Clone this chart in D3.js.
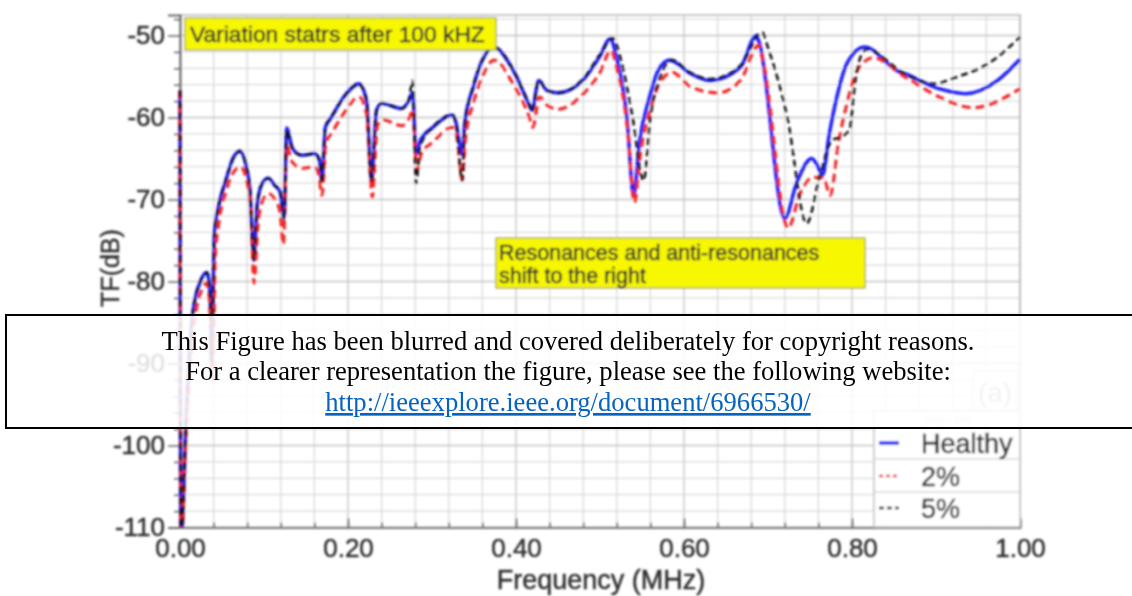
<!DOCTYPE html>
<html><head><meta charset="utf-8">
<script src="https://cdn.jsdelivr.net/npm/d3@7"></script>
<style>body{margin:0;background:#fff}svg{display:block}</style>
</head><body><svg id="c" width="1132" height="596"></svg>
<script>
// ---------- data ----------
const xTickValues = [0, 0.2, 0.4, 0.6, 0.8, 1.0];
const xTickLabels = ["0.00", "0.20", "0.40", "0.60", "0.80", "1.00"];
const yTickValues = [-50, -60, -70, -80, -90, -100, -110];
const seriesNames = ["Healthy", "2%", "5%"];

// [frequency MHz, TF dB]
const healthy = [[0,-56.7],[0.001,-112],[0.008,-95],[0.015,-84],[0.025,-79.8],[0.032,-78.9],[0.036,-82],[0.0375,-90],[0.041,-74],[0.045,-71.3],[0.055,-67.5],[0.063,-65],[0.071,-64.1],[0.080,-66.5],[0.083,-68.5],[0.088,-77.4],[0.092,-70.5],[0.098,-68],[0.105,-67.4],[0.113,-68.3],[0.119,-69],[0.124,-72.2],[0.127,-61.3],[0.134,-63.8],[0.145,-64.6],[0.160,-64.4],[0.166,-65.2],[0.169,-67.7],[0.173,-61.2],[0.180,-60],[0.195,-57.5],[0.213,-55.9],[0.222,-57.9],[0.228,-67.5],[0.234,-59.1],[0.240,-58.3],[0.264,-58.9],[0.272,-58],[0.277,-57],[0.281,-64.5],[0.286,-62.8],[0.301,-61.2],[0.324,-59.7],[0.328,-60.4],[0.336,-64.5],[0.339,-60.7],[0.349,-56.3],[0.36,-53],[0.373,-51.4],[0.397,-54.3],[0.415,-58.3],[0.419,-59.1],[0.427,-55.5],[0.437,-56.7],[0.45,-57],[0.48,-55.4],[0.50,-52.5],[0.512,-50.4],[0.52,-52.8],[0.532,-60],[0.540,-69.5],[0.547,-63],[0.559,-57.5],[0.569,-54.3],[0.583,-53],[0.607,-54.6],[0.631,-55.5],[0.667,-53.9],[0.686,-50],[0.69,-51],[0.720,-72.3],[0.734,-68],[0.752,-65],[0.757,-65.5],[0.765,-67],[0.773,-62],[0.782,-57.5],[0.794,-53.4],[0.815,-51.4],[0.854,-54.3],[0.864,-54.7],[0.904,-56.5],[0.935,-57.1],[0.973,-55.5],[1.0,-52.9]];

const damaged2 = [[0,-56.7],[0.001,-112],[0.008,-97],[0.016,-86],[0.026,-81],[0.032,-80.2],[0.036,-84],[0.039,-92],[0.042,-77],[0.046,-73],[0.055,-69],[0.063,-66.8],[0.072,-66],[0.080,-68],[0.084,-70.5],[0.088,-80.2],[0.093,-73],[0.099,-70],[0.106,-69.3],[0.113,-70],[0.119,-71.5],[0.123,-75.5],[0.127,-63.5],[0.134,-65.5],[0.145,-66.2],[0.160,-66],[0.165,-67],[0.169,-69.5],[0.174,-63],[0.180,-62],[0.195,-59.5],[0.213,-57.5],[0.222,-59.5],[0.229,-69.7],[0.235,-61],[0.242,-60.3],[0.264,-61],[0.274,-59.8],[0.277,-59],[0.282,-66.5],[0.287,-64.5],[0.301,-63],[0.324,-61.2],[0.329,-62],[0.336,-67.6],[0.340,-62.5],[0.350,-58],[0.36,-55],[0.374,-53],[0.397,-56],[0.416,-60],[0.420,-61.2],[0.428,-57.5],[0.437,-58.5],[0.45,-59],[0.482,-56.9],[0.50,-54.5],[0.513,-51.8],[0.52,-54],[0.533,-61.5],[0.541,-70.4],[0.548,-64.5],[0.560,-59],[0.570,-56],[0.586,-54.5],[0.607,-56.2],[0.640,-57],[0.667,-55.5],[0.689,-51.2],[0.694,-53],[0.724,-73.5],[0.738,-69.3],[0.754,-67.3],[0.766,-67.3],[0.774,-69.5],[0.784,-63],[0.794,-58.3],[0.806,-54.3],[0.825,-52.7],[0.864,-55.1],[0.904,-57.5],[0.944,-58.8],[1.0,-56.5]];

const damaged5 = [[0,-56.7],[0.001,-112],[0.008,-95],[0.015,-84],[0.025,-79.8],[0.032,-78.9],[0.036,-82],[0.0375,-90],[0.041,-74],[0.045,-71.3],[0.055,-67.5],[0.063,-65],[0.071,-64.1],[0.080,-66.5],[0.083,-68.5],[0.088,-77.4],[0.092,-70.5],[0.098,-68],[0.105,-67.4],[0.113,-68.3],[0.119,-69],[0.124,-72.5],[0.127,-61.5],[0.134,-63.8],[0.145,-64.6],[0.160,-64.4],[0.166,-65.2],[0.169,-68],[0.173,-61.2],[0.180,-60],[0.195,-57.5],[0.213,-55.9],[0.222,-57.9],[0.228,-67.8],[0.234,-59.1],[0.240,-58.3],[0.264,-58.9],[0.272,-58],[0.277,-55.5],[0.281,-68],[0.286,-63.5],[0.301,-61.2],[0.324,-59.7],[0.328,-60.4],[0.336,-67.7],[0.339,-61],[0.349,-56.3],[0.36,-53],[0.373,-51.4],[0.397,-54.3],[0.415,-58.3],[0.419,-59.3],[0.427,-55.5],[0.437,-56.7],[0.45,-57],[0.48,-55.3],[0.50,-52.3],[0.515,-50.3],[0.525,-53],[0.538,-59.5],[0.552,-67.7],[0.560,-60],[0.572,-55],[0.586,-53],[0.607,-54.5],[0.631,-55.3],[0.667,-53.7],[0.693,-49.6],[0.70,-51.5],[0.723,-60],[0.746,-72.9],[0.762,-67],[0.776,-62.8],[0.790,-62.2],[0.797,-61.5],[0.804,-55.5],[0.812,-52.2],[0.818,-51.7],[0.86,-54.5],[0.885,-55.7],[0.897,-55.9],[0.924,-55.1],[0.964,-53.3],[1.0,-50.2]];

const noteTop = "Variation statrs after 100 kHZ";
const noteMid = ["Resonances and anti-resonances", "shift to the right"];
const panelTag = "(a)";
const legendTitle = "Series Info";
const coverLines = ["This Figure has been blurred and covered deliberately for copyright reasons.",
  "For a clearer representation the figure, please see the following website:"];
const coverLink = "http://ieeexplore.ieee.org/document/6966530/";

// ---------- chart ----------
const svg = d3.select("#c");
const L = 180, R = 1020, T = 15, B = 527.5;
const x = d3.scaleLinear().domain([0, 1]).range([L, R]);
const y = d3.scaleLinear().domain([-110, -47.5]).range([B, T]);

const defs = svg.append("defs");
defs.append("filter").attr("id", "soft").attr("x", "-5%").attr("y", "-5%").attr("width", "110%").attr("height", "110%")
  .append("feGaussianBlur").attr("stdDeviation", 0.9);
defs.append("clipPath").attr("id", "plotclip").append("rect")
  .attr("x", L - 2).attr("y", T).attr("width", R - L + 4).attr("height", B - T);

const g = svg.append("g").attr("filter", "url(#soft)");
const font = "Liberation Sans, Arial, sans-serif";
const ink = "#2e2e2e";
const heavy = s => s.attr("fill", ink).attr("stroke", ink).attr("stroke-width", 0.45);

// grid
const gx = d3.range(0, 1.0001, 0.04);
const gy = d3.range(-110, -47.4, 2);
g.append("g").selectAll("line").data(gx).join("line")
  .attr("x1", d => x(d)).attr("x2", d => x(d)).attr("y1", T).attr("y2", B)
  .attr("stroke", d => Math.abs(d * 5 - Math.round(d * 5)) < 1e-6 ? "#c4c4c4" : "#dadada").attr("stroke-width", 1.3);
g.append("g").selectAll("line").data(gy).join("line")
  .attr("x1", L).attr("x2", R).attr("y1", d => y(d)).attr("y2", d => y(d))
  .attr("stroke", d => d % 10 === 0 ? "#c4c4c4" : "#dadada").attr("stroke-width", 1.3);
// frame
g.append("rect").attr("x", L).attr("y", T).attr("width", R - L).attr("height", B - T)
  .attr("fill", "none").attr("stroke", "#b8b8b8").attr("stroke-width", 1.5);

// y axis
const yAxis = g.append("g").attr("transform", `translate(${L},0)`)
  .call(d3.axisLeft(y).tickValues(yTickValues).tickSize(12).tickPadding(3).tickFormat(d => String(d)));
yAxis.selectAll("text").attr("font-family", font).attr("font-size", 26).call(heavy);
yAxis.selectAll(".tick line").attr("stroke", "#666").attr("stroke-width", 1.5);
yAxis.select(".domain").attr("stroke", "#666").attr("stroke-width", 2);
g.append("g").attr("transform", `translate(${L},0)`)
  .call(d3.axisLeft(y).tickValues(gy.filter(d => d % 10 !== 0)).tickSize(6).tickFormat(""))
  .call(s => { s.select(".domain").remove(); s.selectAll("line").attr("stroke", "#666").attr("stroke-width", 1.5); });

// x axis
const xAxis = g.append("g").attr("transform", `translate(0,${B})`)
  .call(d3.axisBottom(x).tickValues(xTickValues).tickSize(-9).tickPadding(0).tickFormat((d, i) => xTickLabels[i]));
xAxis.selectAll("text").attr("font-family", font).attr("font-size", 26).attr("y", 11).call(heavy);
xAxis.selectAll(".tick line").attr("stroke", "#666").attr("stroke-width", 1.5);
xAxis.select(".domain").attr("stroke", "#777").attr("stroke-width", 2);
g.append("g").attr("transform", `translate(0,${B})`)
  .call(d3.axisBottom(x).tickValues(gx).tickSize(-5).tickFormat(""))
  .call(s => { s.select(".domain").remove(); s.selectAll("line").attr("stroke", "#666").attr("stroke-width", 1.5); });

// axis titles
g.append("text").attr("x", 601).attr("y", 589).attr("text-anchor", "middle")
  .attr("font-family", font).attr("font-size", 27).call(heavy).text("Frequency (MHz)");
g.append("text").attr("transform", "translate(119,268) rotate(-90)").attr("text-anchor", "middle")
  .attr("font-family", font).attr("font-size", 25).call(heavy).text("TF(dB)");

// series
const line = d3.line().x(d => x(d[0])).y(d => y(d[1])).curve(d3.curveMonotoneX);
const styles = [
  { data: healthy, color: "#2323f5", width: 3.6, dash: null },
  { data: damaged2, color: "#f02828", width: 3.2, dash: "9,5" },
  { data: damaged5, color: "#151515", width: 2.6, dash: "7,4" }
];
const lines = g.append("g").attr("clip-path", "url(#plotclip)");
styles.forEach(s => {
  lines.append("path").datum(s.data).attr("d", line).attr("fill", "none")
    .attr("stroke", s.color).attr("stroke-width", s.width)
    .attr("stroke-dasharray", s.dash).attr("stroke-linejoin", "round");
});

// annotations
g.append("rect").attr("x", 185).attr("y", 18).attr("width", 311).attr("height", 32)
  .attr("fill", "#f7f700").attr("stroke", "#a0a060").attr("stroke-width", 1.2);
g.append("text").attr("x", 190).attr("y", 42).attr("font-family", font).attr("font-size", 22.8)
  .call(heavy).text(noteTop);
g.append("rect").attr("x", 496).attr("y", 238).attr("width", 369).attr("height", 50)
  .attr("fill", "#f7f700").attr("stroke", "#a0a060").attr("stroke-width", 1.2);
noteMid.forEach((t, i) => g.append("text").attr("x", 499).attr("y", 260 + i * 23)
  .attr("font-family", font).attr("font-size", 21.5).call(heavy).text(t));

// panel tag
g.append("rect").attr("x", 973).attr("y", 371).attr("width", 44).attr("height", 40)
  .attr("fill", "#fff").attr("stroke", "#c8c8c8").attr("stroke-width", 1.2);
g.append("text").attr("x", 995).attr("y", 402).attr("text-anchor", "middle").attr("font-family", font)
  .attr("font-size", 28).attr("fill", "#999").text(panelTag);

// legend
const lg = g.append("g");
lg.append("rect").attr("x", 874).attr("y", 411).attr("width", 146).attr("height", 116)
  .attr("fill", "#fff").attr("stroke", "#b8b8b8").attr("stroke-width", 1.3);
lg.append("text").attr("x", 947).attr("y", 423).attr("text-anchor", "middle").attr("font-family", font)
  .attr("font-size", 10).attr("fill", "#ccc").text(legendTitle);
[427, 459, 492].forEach(yy => lg.append("line").attr("x1", 874).attr("x2", 1020).attr("y1", yy).attr("y2", yy)
  .attr("stroke", "#c8c8c8").attr("stroke-width", 1.2));
const rowY = [443, 476, 508];
seriesNames.forEach((n, i) => {
  const s = styles[i];
  lg.append("line").attr("x1", 879).attr("x2", 899).attr("y1", rowY[i]).attr("y2", rowY[i])
    .attr("stroke", s.color).attr("stroke-width", i === 0 ? 3.6 : 2.6)
    .attr("stroke-dasharray", i === 0 ? null : (i === 1 ? "4,3" : "5,3"));
  lg.append("text").attr("x", 921).attr("y", rowY[i] + 10).attr("font-family", font)
    .attr("font-size", 27).call(heavy).text(n);
});

// cover box
const cv = svg.append("g");
cv.append("rect").attr("x", 6).attr("y", 315).attr("width", 1130).attr("height", 113)
  .attr("fill", "#fff").attr("fill-opacity", 0.86).attr("stroke", "#000").attr("stroke-width", 2);
coverLines.forEach((t, i) => cv.append("text").attr("x", 568).attr("y", 350 + i * 30)
  .attr("text-anchor", "middle").attr("font-family", "Liberation Serif, Times New Roman, serif")
  .attr("font-size", 26.6).attr("fill", "#000").text(t));
cv.append("text").attr("x", 568).attr("y", 411).attr("text-anchor", "middle")
  .attr("font-family", "Liberation Serif, Times New Roman, serif").attr("font-size", 26.6)
  .attr("fill", "#0563c1").attr("text-decoration", "underline").text(coverLink);
</script></body></html>
